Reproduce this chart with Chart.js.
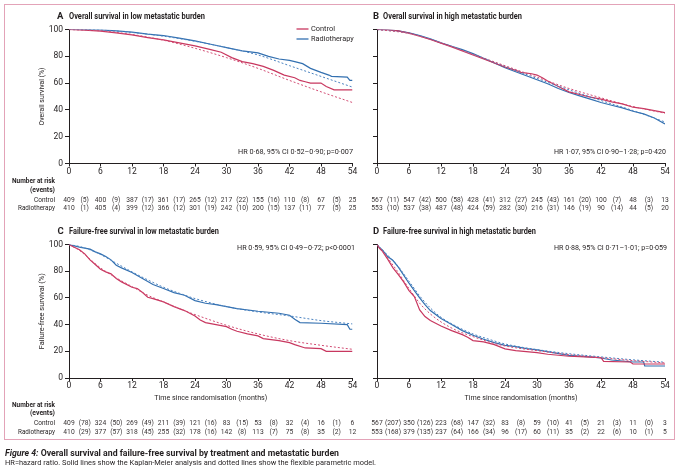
<!DOCTYPE html>
<html lang="en">
<head>
<meta charset="utf-8">
<title>Figure 4: Overall survival and failure-free survival</title>
<script src="https://cdn.jsdelivr.net/npm/chart.js@4.4.1/dist/chart.umd.min.js"></script>
<style>
  html,body{margin:0;padding:0;background:#ffffff;}
  #wrap{position:relative;width:680px;height:475px;overflow:hidden;font-family:Roboto,"Open Sans",Arial,sans-serif;color:#231f20;}
  #wrap canvas{position:absolute;left:0;top:0;}
  .frame{position:absolute;left:4px;top:4px;width:671px;height:436px;border:1px solid #e3a3b8;box-sizing:border-box;}
  .t{position:absolute;white-space:nowrap;line-height:12px;height:12px;transform-origin:0 50%;}
  .let{font-size:9.5px;font-weight:700;}
  .ttl{font-size:8.5px;font-weight:700;}
  .cap1{font-size:8.5px;font-weight:700;}
  .cap2{font-size:8px;}
</style>
</head>
<body>
<div id="wrap">
  <div class="frame"></div>
  <canvas id="cA" width="680" height="475"></canvas>
  <canvas id="cB" width="680" height="475"></canvas>
  <canvas id="cC" width="680" height="475"></canvas>
  <canvas id="cD" width="680" height="475"></canvas>
  <div class="t let" style="left:57px;top:10px">A</div>
  <div class="t ttl" style="left:68.5px;top:10px" data-w="136">Overall survival in low metastatic burden</div>
  <div class="t let" style="left:373px;top:10px">B</div>
  <div class="t ttl" style="left:383px;top:10px" data-w="139">Overall survival in high metastatic burden</div>
  <div class="t let" style="left:57.5px;top:225px">C</div>
  <div class="t ttl" style="left:68.5px;top:225px" data-w="150">Failure-free survival in low metastatic burden</div>
  <div class="t let" style="left:373px;top:225px">D</div>
  <div class="t ttl" style="left:383px;top:225px" data-w="153">Failure-free survival in high metastatic burden</div>
  <div class="t cap1" style="left:5px;top:447px" data-w="334"><i>Figure 4:</i> Overall survival and failure-free survival by treatment and metastatic burden</div>
  <div class="t cap2" style="left:5px;top:456.5px" data-w="371">HR=hazard ratio. Solid lines show the Kaplan-Meier analysis and dotted lines show the flexible parametric model.</div>
</div>
<script>
// ---------------- DATA ----------------
const timeTicks = [0, 6, 12, 18, 24, 30, 36, 42, 48, 54];
const yTicks = [0, 20, 40, 60, 80, 100];
const groupNames = ['Control', 'Radiotherapy'];

// Panel A: overall survival, low metastatic burden  [months, %]
const osLowControlKM = [[0,100],[3,99.6],[6,98.8],[9,97.5],[12,96],[15,94],[18,92.2],[21,90],[24,87.8],[27,85],[29,83],[31,79],[33,76],[35,74.5],[37,72.5],[39,69.5],[41,66],[43,64],[44,62],[45,61],[46,60],[48,60],[49,57.5],[50.5,55],[54,55]];
const osLowRadioKM = [[0,100],[3,100],[6,99.7],[9,99],[12,98],[15,96.5],[18,95.5],[21,93.5],[24,91.5],[27,89],[30,86.5],[33,84],[36,82.5],[38,80],[40,78],[42,77],[43,76],[44.5,74.5],[46,71],[48,68],[49.5,66],[50,65],[53,64.5],[53.5,62],[54,62]];
const osLowControlFP = [[0,100],[6,99],[12,96.3],[18,92],[24,86],[30,79],[36,71],[42,62],[48,53.5],[54,45.5]];
const osLowRadioFP = [[0,100],[6,99.6],[12,97.8],[18,95],[24,91.2],[30,86.5],[36,81],[42,73],[48,65],[54,57]];
const osLowControlRisk = [409, 400, 387, 361, 265, 217, 155, 110, 67, 25];
const osLowControlEvents = [5, 9, 17, 17, 12, 22, 16, 8, 5];
const osLowRadioRisk = [410, 405, 399, 366, 301, 242, 200, 137, 77, 25];
const osLowRadioEvents = [1, 4, 12, 12, 19, 10, 15, 11, 5];

// Panel B: overall survival, high metastatic burden
const osHighControlKM = [[0,100],[2,99.8],[4,99],[6,97.3],[8,95],[10,92.5],[12,89.8],[14,87],[16,84],[18,81],[20,78],[22,75],[24,72],[26,69.5],[27,68],[29,67],[30,66],[31,64],[32,61.5],[34,57.5],[36,53.5],[38,51.5],[40,49.5],[42,48],[44,46],[46,44.5],[48,42],[50,41],[52,39.5],[54,38]];
const osHighRadioKM = [[0,100],[2,99.8],[4,99],[6,97.5],[8,95.5],[10,93],[12,90],[14,87.5],[16,85],[18,82],[20,78.5],[22,75],[24,71.5],[26,68.5],[28,65.5],[30,62.5],[32,59.5],[34,56],[36,53],[38,50.5],[40,48],[42,45.5],[44,43.5],[46,41.5],[48,39],[50,37],[52,34],[54,29.5]];
const osHighControlFP = [[0,100],[6,97],[12,90],[18,81.5],[24,73],[30,64.5],[36,56],[42,49],[48,42.5],[54,37.5]];
const osHighRadioFP = [[0,100],[6,97.3],[12,90.2],[18,81.5],[24,72.5],[30,63.5],[36,55],[42,47],[48,39.5],[54,31]];
const osHighControlRisk = [567, 547, 500, 428, 312, 245, 161, 100, 48, 13];
const osHighControlEvents = [11, 42, 58, 41, 27, 43, 20, 7, 3];
const osHighRadioRisk = [553, 537, 487, 424, 282, 216, 146, 90, 44, 20];
const osHighRadioEvents = [10, 38, 48, 59, 30, 31, 19, 14, 5];

// Panel C: failure-free survival, low metastatic burden
const ffsLowControlKM = [[0,100],[1,98],[2,96],[3,93],[4,88.5],[5,85],[6,81.5],[7,79.5],[8,78],[9,74.5],[10,72],[12,68],[13,67],[14,64],[15,60.5],[16,59.5],[18,57],[20,53.5],[22,50.5],[24,46.5],[25,43.5],[26,41.5],[28,40],[30,38.5],[31,36.5],[32,35],[34,33],[36,31.5],[37,29.5],[40,28],[42,26.5],[43,25],[45,22.5],[48,22],[49,20],[54,20]];
const ffsLowRadioKM = [[0,100],[1,99],[2,98],[4,96.5],[5,94.5],[6,93],[7,91],[8,88.5],[9,84.5],[10,82.5],[12,79],[14,74.5],[16,70],[18,67],[20,64],[22,62],[24,58],[26,56],[28,55],[30,53.5],[32,52],[36,50],[40,48.5],[42,47],[43,44],[44,41.5],[48,41],[53,40],[53.5,36.5],[54,36.5]];
const ffsLowControlFP = [[0,100],[2,95.5],[4,89],[6,82.5],[9,75],[12,68.5],[15,62],[18,57],[21,52],[24,47.5],[30,39.5],[36,33],[42,28],[48,24.5],[54,21.5]];
const ffsLowRadioFP = [[0,100],[2,98.5],[4,96],[6,92.5],[9,86],[12,79.5],[15,73.5],[18,68],[21,63.5],[24,59.5],[30,53.5],[36,49.5],[42,46.5],[48,43],[54,40.5]];
const ffsLowControlRisk = [409, 324, 269, 211, 121, 83, 53, 32, 16, 6];
const ffsLowControlEvents = [78, 50, 49, 39, 16, 15, 8, 4, 1];
const ffsLowRadioRisk = [410, 377, 318, 255, 178, 142, 113, 75, 35, 12];
const ffsLowRadioEvents = [29, 57, 45, 32, 16, 8, 7, 8, 2];

// Panel D: failure-free survival, high metastatic burden
const ffsHighControlKM = [[0,100],[0.5,97],[1,95],[2,89],[3,82.5],[4,77.5],[5,72],[6,65.5],[7,61],[8,51],[9,46],[10,43],[12,39],[14,35.5],[16,32.5],[17,30.5],[18,28],[20,27],[22,25],[24,21.8],[26,20.5],[30,19],[32,17.8],[36,16.3],[42,15.2],[42.5,12.5],[47.5,12],[48,10.5],[54,10.5]];
const ffsHighRadioKM = [[0,100],[0.5,97.5],[1,96],[2,91],[3,88],[4,83],[5,77],[6,71],[7,65.5],[8,60],[9,55],[10,50.5],[12,44.5],[14,40],[16,35.5],[18,32],[20,29],[22,26.5],[24,24.5],[26,23.5],[28,22],[30,21],[33,19],[36,17],[40,15.8],[42,15],[44,13.5],[48,12],[50,12],[50.2,9],[54,9]];
const ffsHighControlFP = [[0,100],[1,95],[2,90],[3,84.5],[4,79],[5,73],[6,67],[7,61.5],[8,56],[10,48],[12,42],[15,35.5],[18,31],[21,27],[24,24],[30,20.5],[36,17.5],[42,15.2],[48,13],[54,11.3]];
const ffsHighRadioFP = [[0,100],[1,96],[2,92],[3,88],[4,83.5],[5,78],[6,72.5],[7,67],[8,61.5],[10,52.5],[12,45.5],[15,38.5],[18,33],[21,29],[24,25.5],[30,21.3],[36,18.2],[42,15.8],[48,13.6],[54,11.8]];
const ffsHighControlRisk = [567, 350, 223, 147, 83, 59, 41, 21, 11, 3];
const ffsHighControlEvents = [207, 126, 68, 32, 8, 10, 5, 3, 0];
const ffsHighRadioRisk = [553, 379, 237, 166, 96, 60, 35, 22, 10, 5];
const ffsHighRadioEvents = [168, 135, 64, 34, 17, 11, 2, 6, 1];

const hrTexts = [
  'HR 0\u00b768, 95% CI 0\u00b752\u20130\u00b790; p=0\u00b7007',
  'HR 1\u00b707, 95% CI 0\u00b790\u20131\u00b728; p=0\u00b7420',
  'HR 0\u00b759, 95% CI 0\u00b749\u20130\u00b772; p<0\u00b70001',
  'HR 0\u00b788, 95% CI 0\u00b771\u20131\u00b701; p=0\u00b7059'
];
const yTitles = ['Overall survival (%)', 'Failure-free survival (%)'];
const xTitle = 'Time since randomisation (months)';

// ---------------- STYLE ----------------
const INK = '#231f20';
const NUM = '#3a3536';
const RED = '#c8375f';
const BLUE = '#3370b0';
const RED_FP = '#d24d74';
const BLUE_FP = '#4a82c0';
const FONT = 'Roboto, "Open Sans", Arial, sans-serif';

// fit title/caption widths
document.querySelectorAll('[data-w]').forEach(el => {
  const w = el.getBoundingClientRect().width;
  el.style.transform = 'scaleX(' + (parseFloat(el.dataset.w) / w) + ')';
});

function drawScaled(ctx, text, x, y, s, align) {
  ctx.save();
  ctx.translate(x, y);
  ctx.scale(s, 1);
  ctx.textAlign = align;
  ctx.fillText(text, 0, 0);
  ctx.restore();
}
function fitText(ctx, text, x, y, w, align) {
  const m = ctx.measureText(text).width;
  drawScaled(ctx, text, x, y, w ? w / m : 1, align);
}

const toXY = arr => arr.map(p => ({x: p[0], y: p[1]}));

const extras = {
  id: 'extras',
  afterDraw(chart, args, o) {
    const ctx = chart.ctx, xs = chart.scales.x, ca = chart.chartArea;
    ctx.save();
    ctx.fillStyle = INK;
    ctx.textBaseline = 'middle';
    // y-axis title
    if (o.yTitle) {
      ctx.font = '8px ' + FONT;
      ctx.save();
      ctx.translate(o.yTitleX, (ca.top + ca.bottom) / 2);
      ctx.rotate(-Math.PI / 2);
      fitText(ctx, o.yTitle, 0, 0, o.yTitleW, 'center');
      ctx.restore();
    }
    // x-axis title
    if (o.xTitle) {
      ctx.font = '8px ' + FONT;
      fitText(ctx, o.xTitle, (ca.left + ca.right) / 2, o.xTitleY, o.xTitleW, 'center');
    }
    // HR text
    ctx.font = '8px ' + FONT;
    fitText(ctx, o.hr, o.hrX, o.hrY, o.hrW, 'right');
    // legend
    if (o.legend) {
      const ds = chart.data.datasets;
      const lw = [24, 42.7];
      [0, 1].forEach(i => {
        const y = o.legendY + i * 10;
        ctx.strokeStyle = ds[i].borderColor;
        ctx.lineWidth = 1.3;
        ctx.beginPath(); ctx.moveTo(296.5, y); ctx.lineTo(308.5, y); ctx.stroke();
        ctx.fillStyle = INK;
        fitText(ctx, ds[i].label, 311, y, lw[i], 'left');
      });
    }
    // number-at-risk table
    const tb = o.table;
    if (o.rowLabels) {
      ctx.fillStyle = INK;
      ctx.font = 'bold 8px ' + FONT;
      fitText(ctx, 'Number at risk', 55, tb.y[0], 43, 'right');
      fitText(ctx, '(events)', 55, tb.y[1], 25, 'right');
      ctx.font = '8px ' + FONT;
      fitText(ctx, groupNames[0], 55, tb.y[2], 21, 'right');
      fitText(ctx, groupNames[1], 55, tb.y[3], 37, 'right');
    }
    ctx.font = '8px ' + FONT;
    ctx.fillStyle = NUM;
    [[tb.ctrlRisk, tb.ctrlEv, tb.y[2]], [tb.rtRisk, tb.rtEv, tb.y[3]]].forEach(r => {
      const [risk, ev, y] = r;
      risk.forEach((n, i) => {
        drawScaled(ctx, String(n), xs.getPixelForValue(timeTicks[i]), y, 0.84, 'center');
        if (i < ev.length) {
          const xm = xs.getPixelForValue((timeTicks[i] + timeTicks[i + 1]) / 2);
          drawScaled(ctx, '(' + ev[i] + ')', xm, y, 0.84, 'center');
        }
      });
    });
    ctx.restore();
  }
};

function buildPanel(id, p) {
  const datasets = [
    {label: groupNames[0], data: toXY(p.ctrlKM), borderColor: RED, borderWidth: 1.2, order: 2},
    {label: groupNames[1], data: toXY(p.rtKM), borderColor: BLUE, borderWidth: 1.2, order: 2},
    {label: groupNames[0] + ' (parametric)', data: toXY(p.ctrlFP), borderColor: RED_FP, borderWidth: 1, borderDash: [2, 2], cubicInterpolationMode: 'monotone', order: 1},
    {label: groupNames[1] + ' (parametric)', data: toXY(p.rtFP), borderColor: BLUE_FP, borderWidth: 1, borderDash: [2, 2], cubicInterpolationMode: 'monotone', order: 1}
  ];
  const tickFont = {family: FONT, size: 8.5};
  return new Chart(document.getElementById(id), {
    type: 'line',
    data: {datasets},
    options: {
      responsive: false,
      animation: false,
      devicePixelRatio: 1,
      events: [],
      layout: {padding: {left: p.area.l - p.yW, top: p.area.t, right: 680 - p.area.r, bottom: 475 - p.area.b - p.xH}},
      elements: {point: {radius: 0}, line: {tension: 0, fill: false, borderCapStyle: 'butt'}},
      plugins: {
        legend: {display: false},
        tooltip: {enabled: false},
        extras: p.extras
      },
      scales: {
        x: {
          type: 'linear', min: timeTicks[0], max: timeTicks[timeTicks.length - 1],
          afterFit: s => { s.height = p.xH; },
          afterBuildTicks: s => { s.ticks = timeTicks.map(v => ({value: v})); },
          ticks: {font: tickFont, color: INK, padding: 0, maxRotation: 0, autoSkip: false},
          grid: {display: true, drawOnChartArea: false, drawTicks: true, tickLength: 3, color: INK, lineWidth: 1},
          border: {display: true, color: INK, width: 1}
        },
        y: {
          type: 'linear', min: yTicks[0], max: yTicks[yTicks.length - 1],
          afterFit: s => { s.width = p.yW; },
          afterBuildTicks: s => { s.ticks = yTicks.map(v => ({value: v})); },
          ticks: {display: p.yLabels, font: tickFont, color: INK, padding: 2},
          grid: {display: true, drawOnChartArea: false, drawTicks: true, tickLength: 4, color: INK, lineWidth: 1},
          border: {display: true, color: INK, width: 1}
        }
      }
    },
    plugins: [extras]
  });
}

const topTable = [181, 189.5, 199.5, 207.5];
const botTable = [404.5, 413, 423, 431.5];

buildPanel('cA', {
  ctrlKM: osLowControlKM, rtKM: osLowRadioKM, ctrlFP: osLowControlFP, rtFP: osLowRadioFP,
  area: {l: 69, t: 29.5, r: 352.5, b: 163.5}, yW: 39, xH: 20, yLabels: true,
  extras: {yTitle: yTitles[0], yTitleX: 42, yTitleW: 58, hr: hrTexts[0], hrX: 353, hrY: 152, hrW: 115,
    legend: true, legendY: 29, rowLabels: true,
    table: {y: topTable, ctrlRisk: osLowControlRisk, ctrlEv: osLowControlEvents, rtRisk: osLowRadioRisk, rtEv: osLowRadioEvents}}
});
buildPanel('cB', {
  ctrlKM: osHighControlKM, rtKM: osHighRadioKM, ctrlFP: osHighControlFP, rtFP: osHighRadioFP,
  area: {l: 377, t: 29.5, r: 665, b: 163.5}, yW: 6, xH: 20, yLabels: false,
  extras: {hr: hrTexts[1], hrX: 666, hrY: 152, hrW: 112, legend: false, rowLabels: false,
    table: {y: topTable, ctrlRisk: osHighControlRisk, ctrlEv: osHighControlEvents, rtRisk: osHighRadioRisk, rtEv: osHighRadioEvents}}
});
buildPanel('cC', {
  ctrlKM: ffsLowControlKM, rtKM: ffsLowRadioKM, ctrlFP: ffsLowControlFP, rtFP: ffsLowRadioFP,
  area: {l: 69, t: 244.5, r: 352.5, b: 378}, yW: 39, xH: 30, yLabels: true,
  extras: {yTitle: yTitles[1], yTitleX: 42, yTitleW: 76, xTitle: xTitle, xTitleY: 397.5, xTitleW: 113,
    hr: hrTexts[2], hrX: 355, hrY: 248, hrW: 118, legend: false, rowLabels: true,
    table: {y: botTable, ctrlRisk: ffsLowControlRisk, ctrlEv: ffsLowControlEvents, rtRisk: ffsLowRadioRisk, rtEv: ffsLowRadioEvents}}
});
buildPanel('cD', {
  ctrlKM: ffsHighControlKM, rtKM: ffsHighRadioKM, ctrlFP: ffsHighControlFP, rtFP: ffsHighRadioFP,
  area: {l: 377, t: 244.5, r: 665, b: 378}, yW: 6, xH: 30, yLabels: false,
  extras: {xTitle: xTitle, xTitleY: 397.5, xTitleW: 113,
    hr: hrTexts[3], hrX: 667, hrY: 248, hrW: 113, legend: false, rowLabels: false,
    table: {y: botTable, ctrlRisk: ffsHighControlRisk, ctrlEv: ffsHighControlEvents, rtRisk: ffsHighRadioRisk, rtEv: ffsHighRadioEvents}}
});
</script>
</body>
</html>
